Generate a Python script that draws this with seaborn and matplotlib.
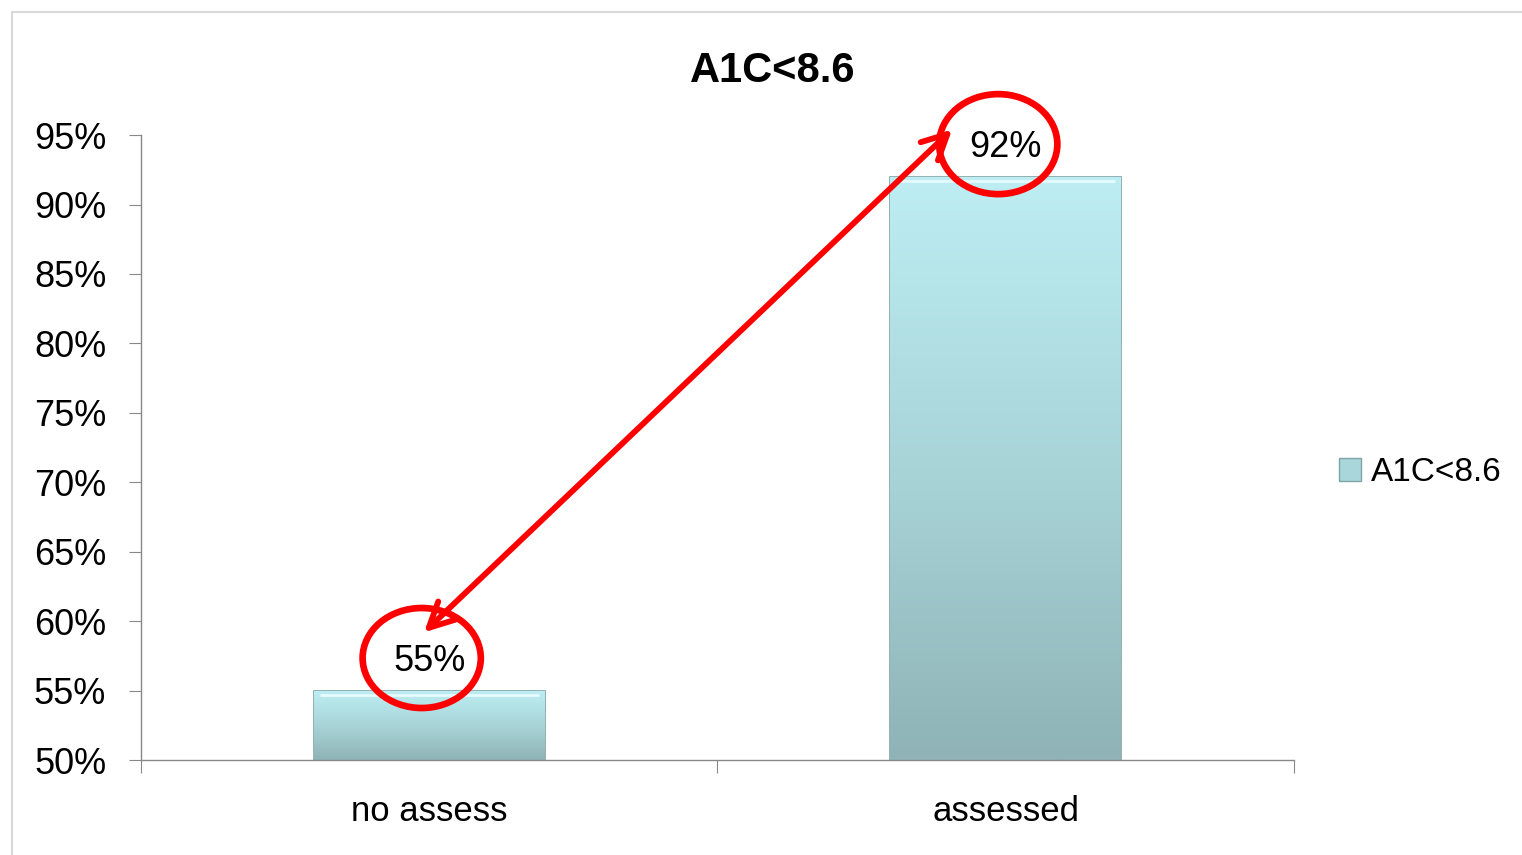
import matplotlib
matplotlib.use("Agg")
import matplotlib.pyplot as plt
from matplotlib.patches import Ellipse, Rectangle
from matplotlib.colors import LinearSegmentedColormap
import numpy as np
import pandas as pd
import seaborn as sns

# Data
categories = ["no assess", "assessed"]
values = [55, 92]
series_name = "A1C<8.6"
y_ticks = [50, 55, 60, 65, 70, 75, 80, 85, 90, 95]

sns.set_style("white")
plt.rcParams["font.family"] = ["Liberation Sans Narrow", "Liberation Sans", "DejaVu Sans"]
plt.rcParams["text.color"] = "black"
plt.rcParams["xtick.labelcolor"] = "black"
plt.rcParams["ytick.labelcolor"] = "black"

df = pd.DataFrame({"group": categories, "pct": values})

fig = plt.figure(figsize=(15.22, 8.55), dpi=100)
ax = fig.add_axes([0.0926, 0.111, 0.7576, 0.731])

sns.barplot(data=df, x="group", y="pct", ax=ax, width=0.4,
            color="#a9d6da", edgecolor="#7fa3a6", linewidth=1.2, zorder=2)

# gradient fill clipped to each bar
cmap = LinearSegmentedColormap.from_list("teal", ["#8fb3b6", "#a8d4d8", "#bdeef3"])
grad = np.linspace(0, 1, 256).reshape(-1, 1)
for bar in ax.patches:
    x0, y0 = bar.get_x(), 50
    w, h = bar.get_width(), bar.get_height()
    im = ax.imshow(grad, cmap=cmap, origin="lower", aspect="auto",
                   extent=[x0, x0 + w, y0, h], zorder=2.5)
    im.set_clip_path(bar)
    # light top highlight
    ax.plot([x0 + 0.01, x0 + w - 0.01], [h - 0.3, h - 0.3], color="#e6fbfd",
            lw=2, zorder=3, solid_capstyle="butt")

ax.set_xlim(-0.5, 1.5)
ax.set_ylim(50, 95)
ax.set_yticks(y_ticks)
ax.set_yticklabels([f"{t}%" for t in y_ticks])
ax.set_xticks([-0.5, 0.5, 1.5], minor=False)
ax.set_xticklabels([])
ax.set_xticks([0, 1], minor=True)
ax.set_xticklabels(categories, minor=True)
ax.tick_params(axis="x", which="minor", length=0, labelsize=25, pad=25)
ax.tick_params(axis="x", which="major", length=9, color="#888888", direction="out", bottom=True)
ax.tick_params(axis="y", length=9, color="#888888", direction="out", labelsize=26, pad=16, left=True)
ax.set_xlabel("")
ax.set_ylabel("")
for s in ["top", "right"]:
    ax.spines[s].set_visible(False)
for s in ["left", "bottom"]:
    ax.spines[s].set_color("#888888")
    ax.spines[s].set_linewidth(1.0)

ax.set_title(series_name, fontsize=30, fontweight="bold", pad=38, color="black")
ax.title.set_position((0.548, 1.0))

# value labels with red rings
for i, v in enumerate(values):
    ax.text(i, v + 2.1, f"{v}%", ha="center", va="center", fontsize=26, zorder=6, clip_on=False)
    ring = Ellipse((i - 0.013, v + 2.35), width=0.205, height=7.2, fill=False,
                   edgecolor="#ff0000", lw=4.8, zorder=5, clip_on=False)
    ax.add_patch(ring)

# double-headed arrow linking the two values
ax.annotate("", xy=(0.907, values[1] + 3.4), xytext=(-0.009, values[0] + 4.2),
            arrowprops=dict(arrowstyle="<->,head_length=1.8,head_width=0.9",
                            color="#ff0000", lw=4.2, shrinkA=0, shrinkB=0),
            zorder=5, annotation_clip=False)

# legend
handle = Rectangle((0, 0), 1, 1, facecolor="#a9d6da", edgecolor="#7fa3a6")
fig.legend([handle], [series_name], loc="center left", bbox_to_anchor=(0.86, 0.447),
           frameon=False, fontsize=24, handlelength=0.65, handleheight=0.65,
           handletextpad=0.3)

# chart area border
fig.add_artist(Rectangle((12 / 1522, -0.01), 1.02, 1 - 12 / 855 + 0.01,
                         transform=fig.transFigure, fill=False,
                         edgecolor="#d9d9d9", lw=1.5))

fig.savefig("out.png", dpi=100)
